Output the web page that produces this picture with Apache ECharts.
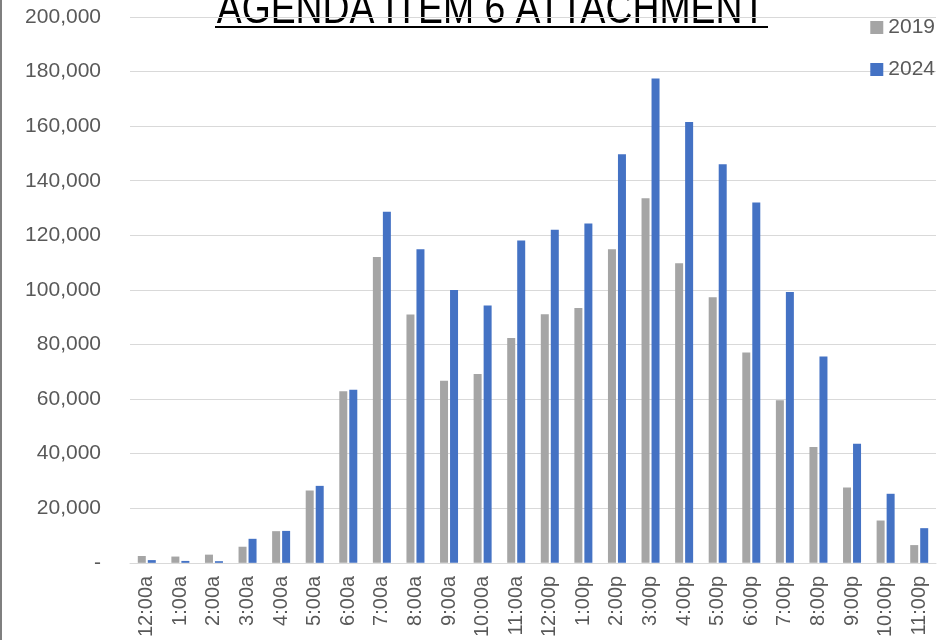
<!DOCTYPE html>
<html>
<head>
<meta charset="utf-8">
<script src="https://cdn.jsdelivr.net/npm/echarts@6/dist/echarts.min.js"></script>
<style>
  html, body { margin: 0; padding: 0; background: #fff; }
  #chart { width: 943px; height: 640px; }
</style>
</head>
<body>
<div id="chart"></div>
<script>
// hours of the day
var hours = ['12:00a', '1:00a', '2:00a', '3:00a', '4:00a', '5:00a', '6:00a', '7:00a',
  '8:00a', '9:00a', '10:00a', '11:00a', '12:00p', '1:00p', '2:00p', '3:00p',
  '4:00p', '5:00p', '6:00p', '7:00p', '8:00p', '9:00p', '10:00p', '11:00p'];

// values
var y2019 = [2500, 2300, 3000, 5900, 11600, 26500, 62900, 112100,
  91000, 66700, 69200, 82400, 91100, 93400, 114900, 133600,
  109800, 97300, 77100, 59600, 42400, 27600, 15500, 6500];
var y2024 = [1000, 700, 600, 8800, 11700, 28200, 63400, 128600,
  114900, 100000, 94300, 118100, 122000, 124300, 149700, 177500,
  161500, 146000, 132000, 99200, 75600, 43600, 25300, 12700];

var titleText = 'AGENDA ITEM 6 ATTACHMENT';

var chart = echarts.init(document.getElementById('chart'));
var font = '"Liberation Sans", Arial, sans-serif';

var option = {
  animation: false,
  textStyle: { fontFamily: font },
  grid: { left: 130, right: 7, top: 17, bottom: 77 },
  legend: {
    orient: 'vertical',
    right: 3,
    top: 12,
    itemWidth: 13,
    itemHeight: 13,
    itemGap: 21,
    icon: 'rect',
    textStyle: { fontSize: 21, color: '#595959', fontFamily: font },
    data: ['2019', '2024']
  },
  xAxis: {
    type: 'category',
    data: hours,
    axisLine: { lineStyle: { color: '#d9d9d9', width: 1 } },
    axisTick: { show: false },
    axisLabel: { rotate: 90, fontSize: 20, color: '#595959', margin: 13, interval: 0 }
  },
  yAxis: {
    type: 'value',
    min: 0,
    max: 200000,
    interval: 20000,
    axisLine: { show: false },
    axisTick: { show: false },
    splitLine: { lineStyle: { color: '#d9d9d9', width: 1 } },
    axisLabel: {
      fontSize: 21,
      color: '#595959',
      margin: 29,
      formatter: function (v) {
        if (v === 0) return '-';
        return v.toString().replace(/\B(?=(\d{3})+(?!\d))/g, ',');
      }
    }
  },
  series: [
    {
      name: '2019',
      type: 'bar',
      data: y2019,
      barWidth: 8,
      barGap: '25%',
      itemStyle: { color: '#A5A5A5' }
    },
    {
      name: '2024',
      type: 'bar',
      data: y2024,
      barWidth: 8,
      itemStyle: { color: '#4472C4' }
    }
  ],
  graphic: [
    {
      type: 'rect',
      shape: { x: 0, y: 0, width: 2, height: 640 },
      style: { fill: '#7f7f7f' }
    },
    {
      type: 'text',
      x: 491,
      y: 11,
      scaleX: 0.83,
      originX: 0,
      style: {
        text: titleText,
        font: '45px "Liberation Sans"',
        fill: '#000',
        textAlign: 'center',
        textVerticalAlign: 'middle'
      }
    },
    {
      type: 'line',
      shape: { x1: 215, y1: 27, x2: 768, y2: 27 },
      style: { stroke: '#000', lineWidth: 2 }
    }
  ]
};

chart.setOption(option);
</script>
</body>
</html>
